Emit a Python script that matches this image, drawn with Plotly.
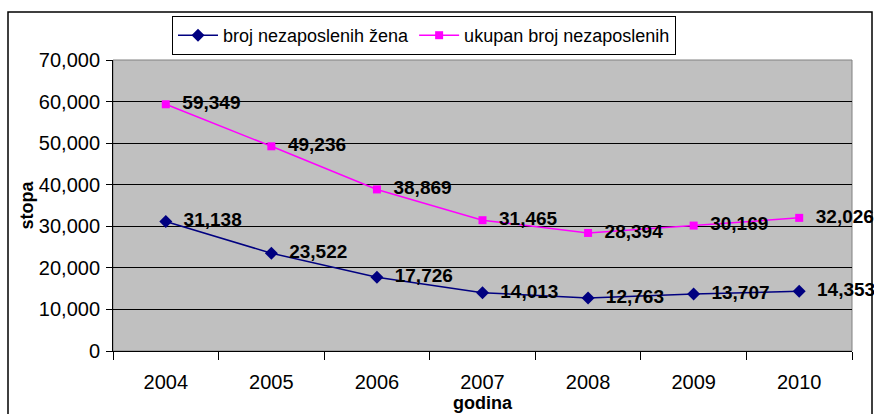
import plotly.graph_objects as go

years = ["2004", "2005", "2006", "2007", "2008", "2009", "2010"]
zene = [31138, 23522, 17726, 14013, 12763, 13707, 14353]
ukupno = [59349, 49236, 38869, 31465, 28394, 30169, 32026]
names = ["broj nezaposlenih žena", "ukupan broj nezaposlenih"]

FONT = "Liberation Sans, Arial, sans-serif"
NB = "\u00a0\u00a0"

def labels(vals):
    return [NB + "{:,}".format(v) for v in vals]

fig = go.Figure()
fig.add_trace(go.Scatter(
    x=years, y=zene, name=names[0], mode="lines+markers+text",
    line=dict(color="#000080", width=1.5),
    marker=dict(symbol="diamond", size=10, color="#000080"),
    text=labels(zene), textposition="middle right",
    textfont=dict(family=FONT, size=19, color="black", weight="bold"),
    cliponaxis=False,
))
fig.add_trace(go.Scatter(
    x=years, y=ukupno, name=names[1], mode="lines+markers+text",
    line=dict(color="#FF00FF", width=1.5),
    marker=dict(symbol="square", size=8, color="#FF00FF"),
    text=labels(ukupno), textposition="middle right",
    textfont=dict(family=FONT, size=19, color="black", weight="bold"),
    cliponaxis=False,
))

L, R, T, B = 113, 22, 60, 63
W, H = 874, 414
pw, ph = W - L - R, H - T - B

def px(x):
    return (x - L) / pw

def py(y):
    return (H - B - y) / ph

fig.update_layout(
    width=W, height=H,
    margin=dict(l=L, r=R, t=T, b=B),
    paper_bgcolor="white",
    plot_bgcolor="#C0C0C0",
    font=dict(family=FONT, size=19, color="black"),
    showlegend=True,
    legend=dict(
        orientation="h", x=px(172), y=py(16), xanchor="left", yanchor="top",
        bordercolor="black", borderwidth=1, bgcolor="white",
        font=dict(family=FONT, size=18, color="black"),
        itemwidth=40, tracegroupgap=0,
    ),
    xaxis=dict(
        type="category", range=[-0.5, 6.5], tickson="boundaries",
        ticks="outside", ticklen=8, tickcolor="black",
        showline=True, linecolor="black", linewidth=1,
        showgrid=False, zeroline=False,
        tickfont=dict(size=20), ticklabelstandoff=13,
        title=dict(text="<b>godina</b>", font=dict(size=18), standoff=4),
        automargin=False,
    ),
    yaxis=dict(
        range=[0, 70000], dtick=10000, tickformat=",",
        ticks="outside", ticklen=6, tickcolor="black",
        showline=True, linecolor="black", linewidth=1,
        showgrid=True, gridcolor="black", gridwidth=1, zeroline=False,
        tickfont=dict(size=20), ticklabelstandoff=2,
        title=dict(text="<b>stopa</b>", font=dict(size=18), standoff=0),
        automargin=False,
    ),
    shapes=[
        dict(type="rect", xref="paper", yref="paper", x0=0, x1=1, y0=0, y1=1,
             line=dict(color="#808080", width=1), layer="below"),
        dict(type="rect", xref="paper", yref="paper",
             x0=px(8), x1=px(872), y0=py(12), y1=py(420),
             line=dict(color="black", width=1.5)),
    ],
)

fig.write_html("out.html", post_script="document.body.style.margin='0';",
               config={"displayModeBar": False})
